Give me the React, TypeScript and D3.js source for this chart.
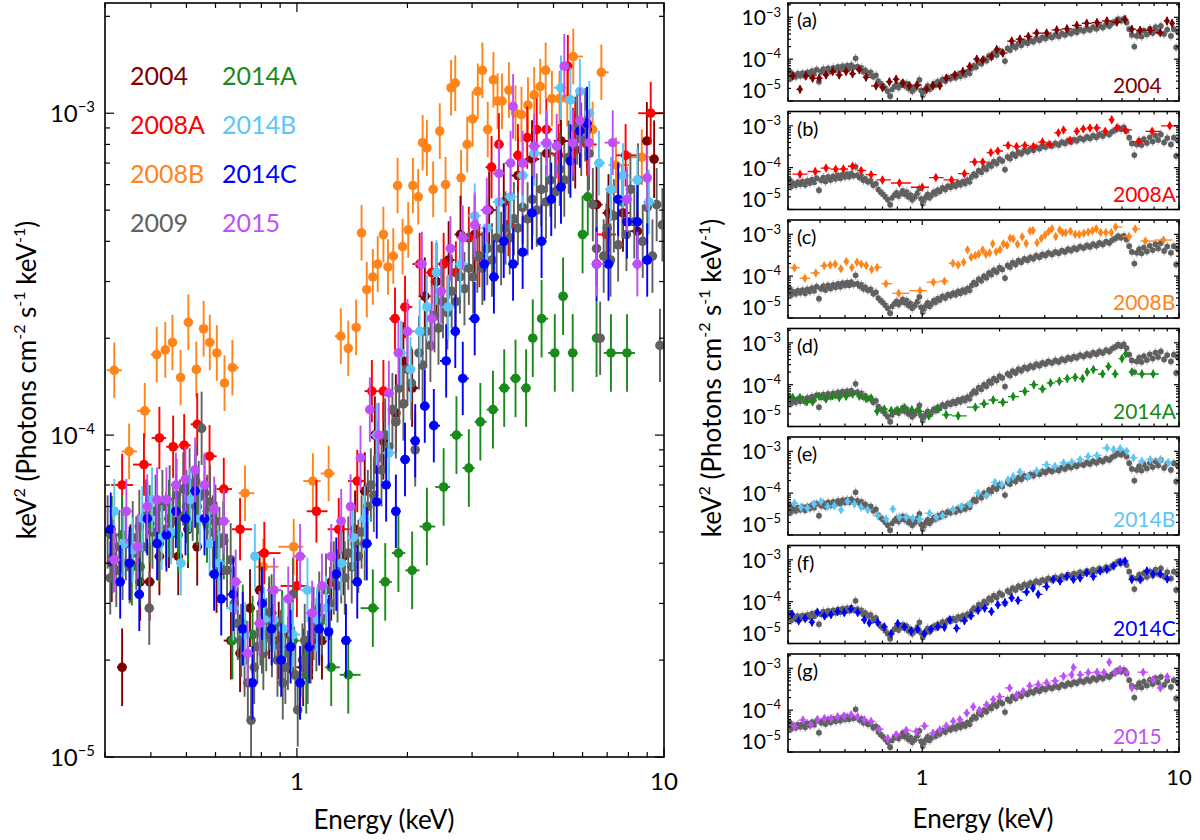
import React from 'react';
import * as d3 from 'd3';

// ---------------- DATA (energy keV, keV^2 flux) ----------------
const E_2004 = [0.313,0.334,0.352,0.374,0.397,0.422,0.448,0.475,0.505,0.535,0.569,0.604,0.661,0.700,0.745,0.791,0.84,0.892,0.953,1.04,1.10,1.17,1.24,1.34,1.44,1.53,1.63,1.72,1.86,1.95,2.06,2.23,2.4,2.59,2.79,3.05,3.34,3.66,4.0,4.37,4.79,5.24,5.73,6.17,6.55,7.06,7.73,8.46,8.98,9.4];
const F_2004 = [4.0e-5,1.9e-5,4.0e-5,3.5e-5,3.5e-5,4.2e-5,5.1e-5,4.2e-5,5.1e-5,4.5e-5,5.6e-5,3.7e-5,2.3e-5,2.1e-5,2.9e-5,3.3e-5,2.66e-5,2.3e-5,2.4e-5,1.9e-5,2.3e-5,2.3e-5,3.5e-5,4.2e-5,5.1e-5,6.7e-5,1.0e-4,9.6e-5,1.17e-4,1.7e-4,1.4e-4,2.7e-4,3.0e-4,3.5e-4,4.2e-4,4.2e-4,5.0e-4,5.3e-4,6.4e-4,7.2e-4,7.5e-4,8.2e-4,7.7e-4,8.9e-4,5.2e-4,4.9e-4,4.9e-4,4.3e-4,8.2e-4,7.2e-4];

const E_2008A = [0.334,0.383,0.422,0.46,0.493,0.535,0.578,0.632,0.70,0.815,1.0,1.13,1.30,1.46,1.60,1.72,1.85,1.97,2.16,2.33,2.51,2.71,2.94,3.14,3.39,3.55,3.77,4.0,4.24,4.5,4.78,5.16,5.47,5.73,6.17,6.97,7.86,9.2];
const F_2008A = [7.0e-5,8.1e-5,9.8e-5,9.2e-5,9.3e-5,1.08e-4,8.6e-5,6.8e-5,5.1e-5,4.3e-5,3.4e-5,5.8e-5,5.1e-5,7.2e-5,1.37e-4,1.37e-4,2.3e-4,2.5e-4,3.4e-4,3.2e-4,3.4e-4,3.2e-4,4.1e-4,3.6e-4,6.8e-4,8.0e-4,4.5e-4,7.4e-4,8.4e-4,8.9e-4,8.9e-4,7.4e-4,1.4e-3,9.0e-4,8.0e-4,4.2e-4,7.4e-4,1.0e-3];

const E_2008B = [0.318,0.349,0.385,0.415,0.438,0.458,0.482,0.506,0.532,0.557,0.579,0.605,0.635,0.667,0.722,0.81,0.98,1.105,1.22,1.317,1.38,1.45,1.50,1.55,1.61,1.66,1.72,1.77,1.83,1.88,1.94,2.01,2.07,2.14,2.20,2.26,2.35,2.45,2.54,2.63,2.70,2.80,2.91,3.01,3.11,3.20,3.31,3.43,3.52,3.62,3.78,3.94,4.09,4.26,4.43,4.60,4.76,4.95,5.19,5.45,5.66,6.39,6.75,7.4,8.7];
const F_2008B = [1.59e-4,8.9e-5,1.19e-4,1.78e-4,1.84e-4,1.94e-4,1.51e-4,2.24e-4,1.60e-4,2.14e-4,1.94e-4,1.80e-4,1.45e-4,1.62e-4,6.6e-5,3.9e-5,4.5e-5,7.2e-5,7.6e-5,2.03e-4,1.86e-4,2.16e-4,4.25e-4,2.83e-4,3.1e-4,3.4e-4,4.2e-4,3.33e-4,3.6e-4,5.96e-4,3.85e-4,4.34e-4,5.96e-4,5.5e-4,8.1e-4,7.8e-4,5.8e-4,8.8e-4,6.0e-4,1.2e-3,1.24e-3,6.3e-4,8.0e-4,9.6e-4,1.17e-3,1.36e-3,8.9e-4,1.27e-3,1.09e-3,1.09e-3,1.18e-3,1.0e-3,9.9e-4,1.06e-3,1.14e-3,1.21e-3,1.36e-3,1.11e-3,1.11e-3,1.11e-3,1.50e-3,8.9e-4,1.34e-3,6.9e-4,7.3e-4];

const E_2009 = [0.305,0.31,0.315,0.322,0.328,0.335,0.342,0.35,0.357,0.365,0.372,0.38,0.388,0.396,0.404,0.412,0.42,0.43,0.44,0.45,0.46,0.47,0.48,0.49,0.50,0.51,0.52,0.53,0.54,0.55,0.56,0.57,0.58,0.59,0.60,0.615,0.63,0.645,0.66,0.675,0.69,0.705,0.72,0.735,0.75,0.765,0.78,0.795,0.81,0.825,0.84,0.855,0.87,0.885,0.90,0.915,0.93,0.945,0.96,0.975,0.99,1.005,1.02,1.035,1.05,1.07,1.09,1.11,1.13,1.15,1.17,1.2,1.23,1.26,1.29,1.32,1.35,1.38,1.41,1.44,1.47,1.5,1.53,1.56,1.59,1.62,1.66,1.7,1.74,1.78,1.82,1.86,1.9,1.95,2.0,2.05,2.1,2.15,2.2,2.25,2.31,2.37,2.43,2.5,2.57,2.64,2.71,2.78,2.86,2.94,3.02,3.1,3.2,3.3,3.4,3.5,3.6,3.7,3.8,3.9,4.0,4.12,4.25,4.38,4.5,4.63,4.77,4.9,5.05,5.2,5.35,5.5,5.65,5.8,5.95,6.1,6.25,6.4,6.55,6.7,6.85,7.0,7.15,7.3,7.5,7.7,7.9,8.1,8.3,8.5,8.75,9.0,9.3,9.55,9.75,9.9];
const F_2009 = [5.0e-5,3.6e-5,4.2e-5,3.8e-5,4.5e-5,4.0e-5,4.6e-5,3.9e-5,4.8e-5,4.3e-5,5.2e-5,4.5e-5,5.6e-5,2.9e-5,5.0e-5,5.8e-5,4.7e-5,6.0e-5,5.1e-5,6.2e-5,5.4e-5,6.5e-5,5.6e-5,6.8e-5,6.0e-5,7.0e-5,6.1e-5,7.2e-5,6.4e-5,1.05e-4,6.6e-5,5.8e-5,6.2e-5,5.0e-5,5.4e-5,4.6e-5,4.8e-5,3.8e-5,4.1e-5,3.0e-5,2.6e-5,2.3e-5,2.0e-5,1.7e-5,1.3e-5,1.9e-5,2.2e-5,2.5e-5,2.1e-5,2.4e-5,2.8e-5,2.3e-5,2.6e-5,2.0e-5,2.2e-5,1.7e-5,1.9e-5,2.1e-5,2.5e-5,3.2e-5,1.8e-5,1.4e-5,1.7e-5,2.0e-5,2.3e-5,1.9e-5,2.2e-5,2.6e-5,2.4e-5,2.9e-5,2.7e-5,3.3e-5,3.0e-5,3.6e-5,3.4e-5,3.9e-5,3.6e-5,4.3e-5,3.9e-5,4.6e-5,4.2e-5,5.0e-5,4.6e-5,6.0e-5,7.0e-5,6.5e-5,8.5e-5,7.8e-5,1.0e-4,9.2e-5,1.2e-4,1.1e-4,1.4e-4,1.25e-4,1.6e-4,1.45e-4,9.0e-5,1.8e-4,1.65e-4,2.1e-4,1.9e-4,2.35e-4,2.15e-4,2.6e-4,2.4e-4,2.8e-4,2.6e-4,3.1e-4,2.85e-4,3.3e-4,3.1e-4,3.6e-4,3.3e-4,3.8e-4,3.5e-4,4.1e-4,3.8e-4,4.4e-4,4.1e-4,4.7e-4,4.4e-4,5.1e-4,4.7e-4,5.4e-4,5.0e-4,5.8e-4,5.3e-4,6.2e-4,5.7e-4,6.7e-4,6.2e-4,7.3e-4,8.0e-4,9.0e-4,8.3e-4,9.2e-4,7.5e-4,5.2e-4,3.8e-4,2.0e-4,3.6e-4,4.4e-4,3.5e-4,4.8e-4,3.9e-4,5.3e-4,4.2e-4,5.8e-4,4.6e-4,6.2e-4,4.0e-4,5.1e-4,3.6e-4,5.2e-4,1.9e-4,4.5e-4];

const E_2014A = [0.313,0.334,0.355,0.374,0.397,0.422,0.448,0.475,0.505,0.535,0.569,0.604,0.632,0.667,0.712,0.757,0.803,0.853,0.911,0.976,1.06,1.15,1.24,1.38,1.61,1.74,1.89,2.06,2.26,2.51,2.72,2.94,3.16,3.42,3.67,3.94,4.21,4.39,4.64,5.04,5.31,5.64,6.0,6.2,6.55,7.17,7.93];
const F_2014A = [4.9e-5,4.9e-5,3.9e-5,3.9e-5,5.3e-5,4.6e-5,5.5e-5,4.9e-5,5.3e-5,6.0e-5,5.3e-5,4.7e-5,4.7e-5,2.3e-5,2.6e-5,2.4e-5,2.4e-5,2.8e-5,2.5e-5,2.3e-5,1.8e-5,2.6e-5,1.9e-5,1.8e-5,2.9e-5,3.5e-5,4.3e-5,3.8e-5,5.2e-5,6.9e-5,1.0e-4,7.9e-5,1.1e-4,1.2e-4,1.4e-4,1.5e-4,1.4e-4,2.0e-4,2.3e-4,1.8e-4,2.7e-4,1.8e-4,4.2e-4,5.5e-4,2.0e-4,1.8e-4,1.8e-4];

const E_2014B = [0.318,0.337,0.357,0.379,0.403,0.428,0.454,0.483,0.512,0.544,0.578,0.613,0.671,0.723,0.768,0.815,0.866,0.919,0.976,1.068,1.134,1.2,1.32,1.42,1.53,1.65,1.78,1.92,2.04,2.16,2.26,2.4,2.58,2.79,3.05,3.29,3.55,3.82,4.12,4.43,4.79,5.24,5.56,5.9,6.26,6.65,7.17,7.73,8.46,9.1];
const F_2014B = [5.8e-5,4.6e-5,4.4e-5,5.5e-5,6.3e-5,4.8e-5,5.0e-5,4.0e-5,6.3e-5,5.5e-5,4.6e-5,4.0e-5,2.9e-5,2.4e-5,4.2e-5,2.67e-5,2.67e-5,2.5e-5,2.4e-5,3.3e-5,2.67e-5,2.9e-5,4.0e-5,4.8e-5,5.5e-5,1.0e-4,8.8e-5,1.8e-4,1.6e-4,2.1e-4,2.5e-4,3.2e-4,2.5e-4,3.4e-4,4.8e-4,4.4e-4,5.3e-4,5.5e-4,6.4e-4,7.5e-4,8.0e-4,1.2e-3,1.1e-3,1.17e-3,1.0e-3,7.0e-4,5.8e-4,6.4e-4,6.2e-4,5.3e-4];

const E_2014C = [0.311,0.33,0.35,0.372,0.391,0.416,0.441,0.468,0.497,0.528,0.56,0.595,0.622,0.671,0.712,0.757,0.803,0.853,0.906,0.961,1.02,1.08,1.15,1.22,1.28,1.36,1.46,1.55,1.65,1.75,1.86,1.97,2.1,2.23,2.36,2.55,2.7,2.83,3.05,3.24,3.44,3.66,3.88,4.12,4.37,4.64,4.93,5.24,5.56,5.9,6.17,6.55,7.06,7.5,7.93,8.46,9.0];
const F_2014C = [5.1e-5,3.5e-5,4.0e-5,3.2e-5,5.5e-5,4.6e-5,4.9e-5,5.8e-5,5.5e-5,6.7e-5,5.5e-5,3.7e-5,3.1e-5,3.2e-5,2.5e-5,1.7e-5,3.0e-5,2.5e-5,2.0e-5,2.2e-5,1.7e-5,2.2e-5,2.5e-5,2.45e-5,3.7e-5,2.3e-5,3.5e-5,4.6e-5,6.2e-5,7.0e-5,5.8e-5,8.4e-5,9.6e-5,1.23e-4,1.07e-4,1.7e-4,2.1e-4,1.5e-4,2.3e-4,3.4e-4,3.1e-4,4.0e-4,3.4e-4,3.7e-4,4.9e-4,4.0e-4,5.4e-4,5.9e-4,7.1e-4,8.8e-4,9.3e-4,3.4e-4,3.4e-4,5.4e-4,4.6e-4,4.6e-4,3.5e-4];

const E_2015 = [0.318,0.343,0.368,0.391,0.416,0.441,0.468,0.497,0.528,0.56,0.595,0.632,0.681,0.734,0.791,0.866,0.947,1.02,1.1,1.17,1.24,1.32,1.4,1.49,1.58,1.67,1.78,1.89,2.0,2.19,2.33,2.47,2.62,2.83,3.05,3.29,3.55,3.82,3.88,4.12,4.43,4.79,5.1,5.35,5.64,5.9,6.26,6.55,7.25,7.93,8.46,9.0];
const F_2015 = [4.1e-5,5.8e-5,4.5e-5,6.0e-5,6.3e-5,6.3e-5,7.0e-5,7.3e-5,7.8e-5,7.0e-5,5.9e-5,5.4e-5,3.5e-5,2.1e-5,2.6e-5,3.3e-5,3.1e-5,4.2e-5,2.8e-5,3.4e-5,4.2e-5,5.4e-5,6.0e-5,8.5e-5,1.2e-4,1.0e-4,1.35e-4,1.8e-4,2.1e-4,3.4e-4,2.3e-4,2.8e-4,3.8e-4,4.1e-4,4.5e-4,5.0e-4,6.5e-4,7.0e-4,1.05e-3,7.0e-4,7.9e-4,8.1e-4,7.9e-4,1.4e-3,8.1e-4,9.5e-4,8.1e-4,3.4e-4,8.1e-4,5.4e-4,3.4e-4,6.3e-4];

const SERIES_NAMES = ['2004','2008A','2008B','2009','2014A','2014B','2014C','2015'];
const SERIES_COLORS = ['#800000','#ff0000','#ff8419','#606060','#1a8a1a','#5cc6f4','#0000ff','#c14ff9'];
const SERIES_ENERGY = [E_2004,E_2008A,E_2008B,E_2009,E_2014A,E_2014B,E_2014C,E_2015];
const SERIES_FLUX = [F_2004,F_2008A,F_2008B,F_2009,F_2014A,F_2014B,F_2014C,F_2015];
const SERIES_ERR = [0.32,0.25,0.22,0.3,0.32,0.26,0.3,0.26];

const LEGEND_COL1 = ['2004','2008A','2008B','2009'];
const LEGEND_COL2 = ['2014A','2014B','2014C','2015'];
const LEFT_DRAW_ORDER = ['2008B','2004','2008A','2014A','2009','2014B','2014C','2015'];
const PANEL_SERIES = ['2004','2008A','2008B','2014A','2014B','2014C','2015'];
const PANEL_LETTERS = ['(a)','(b)','(c)','(d)','(e)','(f)','(g)'];
const REFERENCE = '2009';
const X_DOMAIN = [0.3, 10];
const Y_DOMAIN = [1e-5, 2.2e-3];
const X_TICK_LABELS = [1, 10];
const Y_TICK_LABELS = [1e-5, 1e-4, 1e-3];

const FONT = 'Lato, "Noto Sans", sans-serif';

function idx(name: string) { return SERIES_NAMES.indexOf(name); }

function minorTicks(lo: number, hi: number) {
  const out: number[] = [];
  for (let p = -6; p <= 2; p++) {
    for (let m = 1; m <= 9; m++) {
      const v = m * Math.pow(10, p);
      if (v >= lo * 0.9999 && v <= hi * 1.0001) out.push(v);
    }
  }
  return out;
}

function binEdges(es: number[], i: number): [number, number] {
  const e = es[i];
  const prev = i > 0 ? es[i - 1] : null;
  const next = i < es.length - 1 ? es[i + 1] : null;
  const lo = prev !== null ? Math.sqrt(prev * e) : e / Math.sqrt((next as number) / e);
  const hi = next !== null ? Math.sqrt(next * e) : e * Math.sqrt(e / (prev as number));
  return [lo, hi];
}

type Scale = d3.ScaleLogarithmic<number, number>;

function Frame({ x, y, majorLen, minorLen }: { x: Scale; y: Scale; majorLen: number; minorLen: number }) {
  const [x0, x1] = x.range();
  const [y0, y1] = y.range();
  const xt = minorTicks(X_DOMAIN[0], X_DOMAIN[1]);
  const yt = minorTicks(Y_DOMAIN[0], Y_DOMAIN[1]);
  const isMajor = (v: number) => Math.abs(Math.log10(v) - Math.round(Math.log10(v))) < 1e-6;
  return (
    <g>
      {xt.map((v, i) => {
        const px = x(v);
        const L = isMajor(v) ? majorLen : minorLen;
        return (
          <g key={'x' + i}>
            <line x1={px} x2={px} y1={y0} y2={y0 - L} stroke="#000" strokeWidth={1.2} />
            <line x1={px} x2={px} y1={y1} y2={y1 + L} stroke="#000" strokeWidth={1.2} />
          </g>
        );
      })}
      {yt.map((v, i) => {
        const py = y(v);
        const L = isMajor(v) ? majorLen : minorLen;
        return (
          <g key={'y' + i}>
            <line x1={x0} x2={x0 + L} y1={py} y2={py} stroke="#000" strokeWidth={1.2} />
            <line x1={x1} x2={x1 - L} y1={py} y2={py} stroke="#000" strokeWidth={1.2} />
          </g>
        );
      })}
      <rect x={x0} y={y1} width={x1 - x0} height={y0 - y1} fill="none" stroke="#000" strokeWidth={1.6} />
    </g>
  );
}

function PowLabel({ v, x, y, size, anchor }: { v: number; x: number; y: number; size: number; anchor: string }) {
  const p = Math.round(Math.log10(v));
  return (
    <text x={x} y={y} fontSize={size} fontFamily={FONT} textAnchor={anchor as any} fill="#000">
      10<tspan dy={-size * 0.42} fontSize={size * 0.62}>{'\u2212' + Math.abs(p)}</tspan>
    </text>
  );
}

function YTitle({ x, y }: { x: number; y: number }) {
  const s = 26, ss = 16, up = -11;
  return (
    <text transform={`translate(${x},${y}) rotate(-90)`} textAnchor="middle" fontSize={s} fontFamily={FONT} fill="#000">
      keV<tspan dy={up} fontSize={ss}>2</tspan>
      <tspan dy={-up}> (Photons cm</tspan>
      <tspan dy={up} fontSize={ss}>-2</tspan>
      <tspan dy={-up}> s</tspan>
      <tspan dy={up} fontSize={ss}>-1</tspan>
      <tspan dy={-up}> keV</tspan>
      <tspan dy={up} fontSize={ss}>-1</tspan>
      <tspan dy={-up}>)</tspan>
    </text>
  );
}

function CircleSeries({ name, x, y, r, sw, barColor }: { name: string; x: Scale; y: Scale; r: number; sw: number; barColor?: string }) {
  const k = idx(name);
  const es = SERIES_ENERGY[k], fs = SERIES_FLUX[k], err = SERIES_ERR[k], col = SERIES_COLORS[k];
  const bc = barColor || col;
  return (
    <g>
      {es.map((e, i) => {
        const [lo, hi] = binEdges(es, i);
        const f = fs[i];
        return (
          <g key={i}>
            <line x1={x(e)} x2={x(e)} y1={y(f / (1 + err))} y2={y(f * (1 + err))} stroke={bc} strokeWidth={sw} />
            <line x1={x(lo)} x2={x(hi)} y1={y(f)} y2={y(f)} stroke={bc} strokeWidth={sw} />
            <circle cx={x(e)} cy={y(f)} r={r} fill={col} />
          </g>
        );
      })}
    </g>
  );
}

function DiamondSeries({ name, x, y }: { name: string; x: Scale; y: Scale }) {
  const k = idx(name);
  const es = SERIES_ENERGY[k], fs = SERIES_FLUX[k], err = SERIES_ERR[k] * 0.8, col = SERIES_COLORS[k];
  const sym = d3.symbol().type(d3.symbolDiamond).size(26)() as string;
  return (
    <g>
      {es.map((e, i) => {
        const [lo, hi] = binEdges(es, i);
        const f = fs[i];
        return (
          <g key={i}>
            <line x1={x(e)} x2={x(e)} y1={y(f / (1 + err))} y2={y(f * (1 + err))} stroke={col} strokeWidth={1.3} />
            <line x1={x(lo)} x2={x(hi)} y1={y(f)} y2={y(f)} stroke={col} strokeWidth={1.3} />
            <path d={sym} transform={`translate(${x(e)},${y(f)})`} fill={col} />
          </g>
        );
      })}
    </g>
  );
}

export default function App() {
  const xL = d3.scaleLog().domain(X_DOMAIN).range([105, 664]);
  const yL = d3.scaleLog().domain(Y_DOMAIN).range([757, 3]);

  const xR = d3.scaleLog().domain(X_DOMAIN).range([788, 1179]);
  const panelTop = (k: number) => 3 + k * 108.5;
  const panelH = 98;

  return (
    <svg width={1200} height={840} style={{ position: 'absolute', left: 0, top: 0, display: 'block', background: '#fff' }}>
      <rect x={0} y={0} width={1200} height={840} fill="#fff" />
      <defs>
        <clipPath id="clipL"><rect x={105} y={3} width={559} height={754} /></clipPath>
      </defs>
      <g clipPath="url(#clipL)">
        {LEFT_DRAW_ORDER.map((n) => (
          <CircleSeries key={n} name={n} x={xL} y={yL} r={4.8} sw={1.9} />
        ))}
      </g>
      <Frame x={xL} y={yL} majorLen={9} minorLen={5} />
      {Y_TICK_LABELS.map((v) => (
        <PowLabel key={v} v={v} x={95} y={yL(v) + 9} size={24} anchor="end" />
      ))}
      {X_TICK_LABELS.map((v) => (
        <text key={v} x={xL(v)} y={790} fontSize={24} fontFamily={FONT} textAnchor="middle">{v}</text>
      ))}
      <text x={384} y={829} fontSize={26} fontFamily={FONT} textAnchor="middle">Energy (keV)</text>
      <YTitle x={36} y={380} />
      {LEGEND_COL1.map((n, i) => (
        <text key={n} x={130} y={85 + i * 49} fontSize={25} fontFamily={FONT} fill={SERIES_COLORS[idx(n)]}>{n}</text>
      ))}
      {LEGEND_COL2.map((n, i) => (
        <text key={n} x={222} y={85 + i * 49} fontSize={25} fontFamily={FONT} fill={SERIES_COLORS[idx(n)]}>{n}</text>
      ))}

      {PANEL_SERIES.map((n, k) => {
        const top = panelTop(k);
        const bottom = top + panelH;
        const yR = d3.scaleLog().domain(Y_DOMAIN).range([bottom, top]);
        const cid = 'clipR' + k;
        return (
          <g key={n}>
            <defs>
              <clipPath id={cid}><rect x={788} y={top} width={391} height={panelH} /></clipPath>
            </defs>
            <g clipPath={`url(#${cid})`}>
              <CircleSeries name={REFERENCE} x={xR} y={yR} r={2.9} sw={1.1} barColor="#b5b5b5" />
              <DiamondSeries name={n} x={xR} y={yR} />
            </g>
            <Frame x={xR} y={yR} majorLen={5} minorLen={3} />
            {Y_TICK_LABELS.map((v) => (
              <PowLabel key={v} v={v} x={781} y={Math.min(yR(v) + 8, bottom - 3)} size={21} anchor="end" />
            ))}
            <text x={797} y={top + 24} fontSize={20} fontFamily={FONT} fill="#000">{PANEL_LETTERS[k]}</text>
            <text x={1113} y={bottom - 8} fontSize={21} fontFamily={FONT} fill={SERIES_COLORS[idx(n)]}>{n}</text>
          </g>
        );
      })}
      {X_TICK_LABELS.map((v) => (
        <text key={'r' + v} x={xR(v)} y={785} fontSize={22} fontFamily={FONT} textAnchor="middle">{v}</text>
      ))}
      <text x={983} y={828} fontSize={26} fontFamily={FONT} textAnchor="middle">Energy (keV)</text>
      <YTitle x={721} y={378} />
    </svg>
  );
}
